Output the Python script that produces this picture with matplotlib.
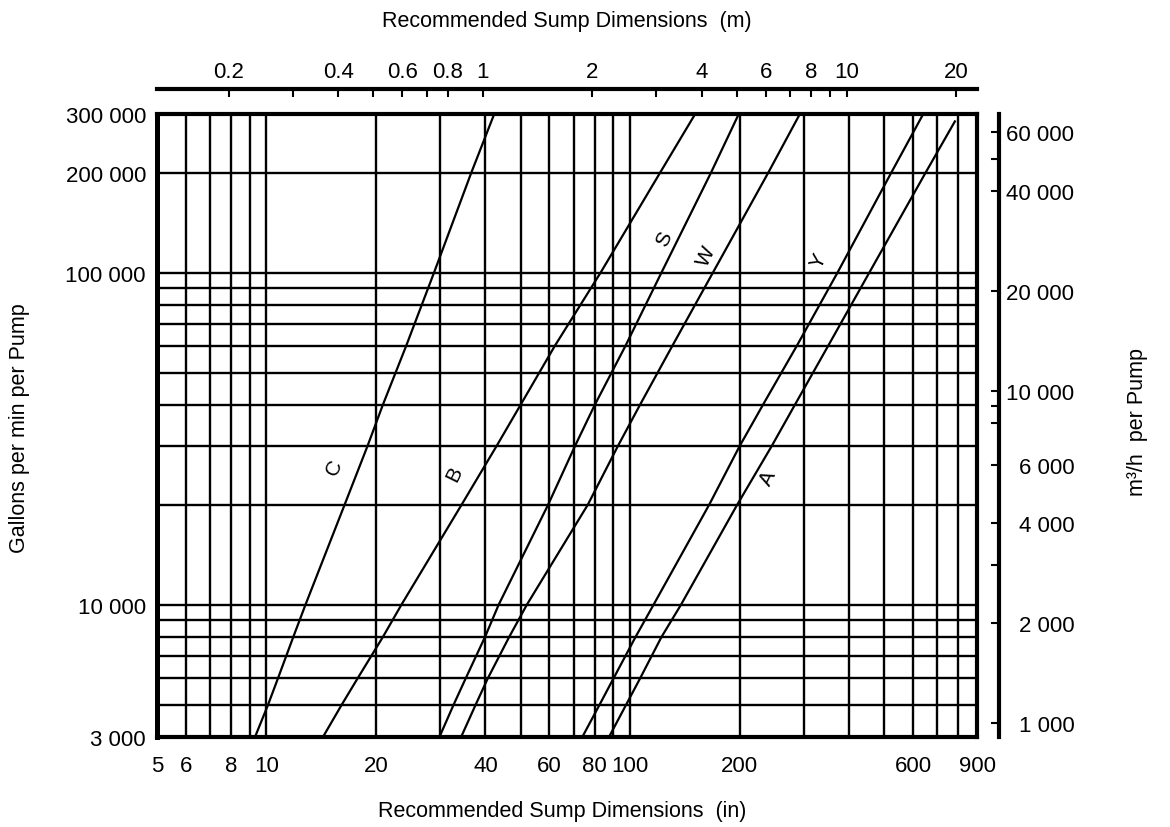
import matplotlib.pyplot as plt
from matplotlib.ticker import NullLocator

plt.rcParams['font.family'] = ['Liberation Sans', 'DejaVu Sans']

IN_PER_M = 39.37
M3H_PER_GPM = 0.2271

flow_gpm = [4000, 5000, 6000, 8000, 10000, 20000, 30000, 40000, 60000, 100000, 200000, 300000]
flow_gpm_A = [4000, 5000, 6000, 8000, 10000, 20000, 30000, 40000, 60000, 100000, 200000, 285000]

# recommended sump dimensions (in) for each curve
dim_C = [9.3, 10.1, 10.75, 11.85, 12.8, 16.4, 18.95, 20.9, 24.2, 28.9, 36.6, 42.3]
dim_B = [14.3, 16.1, 17.8, 20.9, 23.5, 34.4, 42.9, 50, 62, 83, 121, 151]
dim_S = [29.9, 32.7, 35.3, 39.9, 43.5, 59.5, 70.5, 80, 97, 122, 167, 199]
dim_W = [34.3, 37.6, 40.6, 46.5, 52, 76.5, 92.5, 106.5, 130.5, 169, 240, 293]
dim_Y = [73.9, 82.4, 90, 103.5, 116, 165, 200, 232, 287, 372, 523, 640]
dim_A = [87.5, 97.5, 106.5, 122, 138, 197, 245, 284, 350, 455, 650, 782]

curve_names = ['C', 'B', 'S', 'W', 'Y', 'A']
# where the letters sit (in, gpm)
label_in = [15.4, 32.9, 123.8, 162.5, 329.6, 240]
label_gpm = [26100, 24800, 126800, 112700, 108900, 24160]

# axis limits / grid
x_lim = (5, 900)
y_lim = (4000, 300000)
x_grid = [6, 7, 8, 9, 10, 20, 30, 40, 50, 60, 70, 80, 90, 100,
          200, 300, 400, 500, 600, 700, 800]
y_grid = [5000, 6000, 7000, 8000, 9000, 10000, 20000, 30000, 40000, 50000,
          60000, 70000, 80000, 90000, 100000, 200000]

x_ticks = [5, 6, 8, 10, 20, 40, 60, 80, 100, 200, 600, 900]
x_ticklabels = ['5', '6', '8', '10', '20', '40', '60', '80', '100', '200', '600', '900']
# the printed chart labels its bottom edge "3 000"
y_ticks = [4000, 10000, 100000, 200000, 300000]
y_ticklabels = ['3 000', '10 000', '100 000', '200 000', '300 000']

m_ticks = [0.2, 0.4, 0.6, 0.8, 1, 2, 4, 6, 8, 10, 20]
m_ticklabels = ['0.2', '0.4', '0.6', '0.8', '1', '2', '4', '6', '8', '10', '20']
m_minor = [0.3, 0.5, 0.7, 3, 5, 7, 9]

m3h_ticks = [1000, 2000, 4000, 6000, 10000, 20000, 40000, 60000]
m3h_ticklabels = ['1 000', '2 000', '4 000', '6 000', '10 000', '20 000', '40 000', '60 000']
m3h_minor = [3000, 8000, 9000, 50000]

fig = plt.figure(figsize=(11.7, 8.28), dpi=100)
ax = fig.add_axes([0.1342, 0.1087, 0.7009, 0.7524])
ax.set_xscale('log')
ax.set_yscale('log')
ax.set_xlim(*x_lim)
ax.set_ylim(*y_lim)

# grid
ax.vlines(x_grid, 0, 1, transform=ax.get_xaxis_transform(), colors='black', lw=1.7, zorder=1)
ax.hlines(y_grid, 0, 1, transform=ax.get_yaxis_transform(), colors='black', lw=1.7, zorder=1)

# curves
for dims, flows in [(dim_C, flow_gpm), (dim_B, flow_gpm), (dim_S, flow_gpm),
                    (dim_W, flow_gpm), (dim_Y, flow_gpm), (dim_A, flow_gpm_A)]:
    ax.plot(dims, flows, color='black', lw=1.6, zorder=2)

for name, xi, yi in zip(curve_names, label_in, label_gpm):
    ax.text(xi, yi, name, fontsize=15, rotation=64, ha='center', va='center',
            bbox=dict(facecolor='white', edgecolor='none', pad=0.5), zorder=3)

ax.xaxis.set_minor_locator(NullLocator())
ax.yaxis.set_minor_locator(NullLocator())
ax.set_xticks(x_ticks, labels=x_ticklabels)
ax.set_yticks(y_ticks, labels=y_ticklabels)
ax.tick_params(axis='x', length=0, pad=13, labelsize=16)
ax.tick_params(axis='y', length=0, pad=8, labelsize=16)
for side in ['top', 'right', 'bottom']:
    ax.spines[side].set_linewidth(3)
ax.spines['left'].set_linewidth(3.6)

# top axis in metres
ax_top = ax.twiny()
ax_top.set_xscale('log')
ax_top.set_xlim(x_lim[0] / IN_PER_M, x_lim[1] / IN_PER_M)
for side in ['left', 'right', 'bottom']:
    ax_top.spines[side].set_visible(False)
ax_top.spines['top'].set_position(('outward', 18))
ax_top.spines['top'].set_linewidth(3)
ax_top.set_xticks(m_ticks, labels=m_ticklabels)
ax_top.set_xticks(m_minor, minor=True)
ax_top.xaxis.set_minor_formatter(plt.NullFormatter())
ax_top.tick_params(axis='x', which='both', direction='in', length=6, width=1.5,
                   pad=5, labelsize=16)

# right axis in m3/h
ax_r = ax.twinx()
ax_r.set_yscale('log')
ax_r.set_ylim(y_lim[0] * M3H_PER_GPM, y_lim[1] * M3H_PER_GPM)
for side in ['left', 'top', 'bottom']:
    ax_r.spines[side].set_visible(False)
ax_r.spines['right'].set_position(('outward', 16))
ax_r.spines['right'].set_linewidth(3)
ax_r.set_yticks(m3h_ticks, labels=m3h_ticklabels)
ax_r.set_yticks(m3h_minor, minor=True)
ax_r.yaxis.set_minor_formatter(plt.NullFormatter())
ax_r.tick_params(axis='y', which='both', direction='in', length=6, width=1.5,
                 pad=54, labelsize=16)
for lab in ax_r.get_yticklabels():
    lab.set_ha('right')

# axis titles
fig.text(567 / 1170, 1 - 22 / 828, 'Recommended Sump Dimensions  (m)',
         fontsize=15.5, ha='center', va='center')
fig.text(562 / 1170, 1 - 812 / 828, 'Recommended Sump Dimensions  (in)',
         fontsize=15.5, ha='center', va='center')
fig.text(20 / 1170, 1 - 428 / 828, 'Gallons per min per Pump',
         fontsize=15.5, rotation=90, ha='center', va='center')
fig.text(1138 / 1170, 1 - 422 / 828, 'm³/h  per Pump',
         fontsize=15.5, rotation=90, ha='center', va='center')

fig.savefig('out.png', dpi=100)
